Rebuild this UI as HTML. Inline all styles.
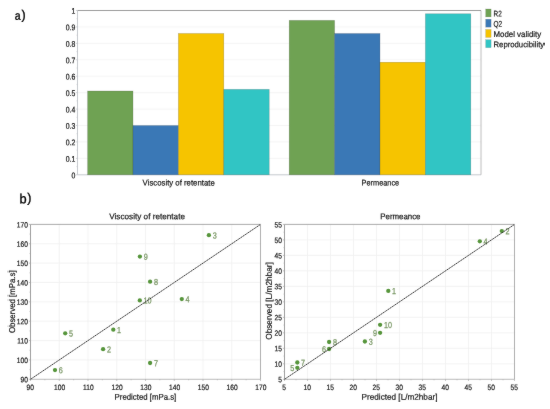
<!DOCTYPE html>
<html><head><meta charset="utf-8"><title>Figure</title>
<style>html,body{margin:0;padding:0;background:#fff;}body{width:550px;height:409px;overflow:hidden;}svg{display:block;}</style>
</head><body>
<svg width="550" height="409" viewBox="0 0 550 409" font-family="'Liberation Sans', sans-serif">
<rect width="550" height="409" fill="#fff"/>
<g filter="url(#soft)">
<line x1="77.5" x2="481.0" y1="158.37" y2="158.37" stroke="#f2f2f2" stroke-width="0.8"/>
<line x1="77.5" x2="481.0" y1="141.94" y2="141.94" stroke="#f2f2f2" stroke-width="0.8"/>
<line x1="77.5" x2="481.0" y1="125.51" y2="125.51" stroke="#f2f2f2" stroke-width="0.8"/>
<line x1="77.5" x2="481.0" y1="109.08" y2="109.08" stroke="#f2f2f2" stroke-width="0.8"/>
<line x1="77.5" x2="481.0" y1="92.65" y2="92.65" stroke="#f2f2f2" stroke-width="0.8"/>
<line x1="77.5" x2="481.0" y1="76.22" y2="76.22" stroke="#f2f2f2" stroke-width="0.8"/>
<line x1="77.5" x2="481.0" y1="59.79" y2="59.79" stroke="#f2f2f2" stroke-width="0.8"/>
<line x1="77.5" x2="481.0" y1="43.36" y2="43.36" stroke="#f2f2f2" stroke-width="0.8"/>
<line x1="77.5" x2="481.0" y1="26.93" y2="26.93" stroke="#f2f2f2" stroke-width="0.8"/>
<line x1="77.5" x2="77.5" y1="10.5" y2="174.8" stroke="#bfc3c8" stroke-width="0.9"/>
<line x1="77.5" x2="481.0" y1="174.8" y2="174.8" stroke="#bfc3c8" stroke-width="0.9"/>
<line x1="481.0" x2="481.0" y1="10.5" y2="174.8" stroke="#b4b4b4" stroke-width="0.9"/>
<line x1="77.5" x2="481.0" y1="10.5" y2="10.5" stroke="#8e8e8e" stroke-width="0.9"/>
<line x1="75.9" x2="77.5" y1="174.80" y2="174.80" stroke="#bfc3c8" stroke-width="0.7"/>
<line x1="76.5" x2="77.5" y1="166.59" y2="166.59" stroke="#bfc3c8" stroke-width="0.6"/>
<text transform="translate(75.30 178.15) rotate(0.05) scale(0.8400 1)" font-size="8.2" text-anchor="end" fill="#151515" stroke="#151515" stroke-width="0.24">0</text>
<line x1="75.9" x2="77.5" y1="158.37" y2="158.37" stroke="#bfc3c8" stroke-width="0.7"/>
<line x1="76.5" x2="77.5" y1="150.16" y2="150.16" stroke="#bfc3c8" stroke-width="0.6"/>
<text transform="translate(75.30 161.72) rotate(0.05) scale(0.8400 1)" font-size="8.2" text-anchor="end" fill="#151515" stroke="#151515" stroke-width="0.24">0.1</text>
<line x1="75.9" x2="77.5" y1="141.94" y2="141.94" stroke="#bfc3c8" stroke-width="0.7"/>
<line x1="76.5" x2="77.5" y1="133.73" y2="133.73" stroke="#bfc3c8" stroke-width="0.6"/>
<text transform="translate(75.30 145.29) rotate(0.05) scale(0.8400 1)" font-size="8.2" text-anchor="end" fill="#151515" stroke="#151515" stroke-width="0.24">0.2</text>
<line x1="75.9" x2="77.5" y1="125.51" y2="125.51" stroke="#bfc3c8" stroke-width="0.7"/>
<line x1="76.5" x2="77.5" y1="117.30" y2="117.30" stroke="#bfc3c8" stroke-width="0.6"/>
<text transform="translate(75.30 128.86) rotate(0.05) scale(0.8400 1)" font-size="8.2" text-anchor="end" fill="#151515" stroke="#151515" stroke-width="0.24">0.3</text>
<line x1="75.9" x2="77.5" y1="109.08" y2="109.08" stroke="#bfc3c8" stroke-width="0.7"/>
<line x1="76.5" x2="77.5" y1="100.87" y2="100.87" stroke="#bfc3c8" stroke-width="0.6"/>
<text transform="translate(75.30 112.43) rotate(0.05) scale(0.8400 1)" font-size="8.2" text-anchor="end" fill="#151515" stroke="#151515" stroke-width="0.24">0.4</text>
<line x1="75.9" x2="77.5" y1="92.65" y2="92.65" stroke="#bfc3c8" stroke-width="0.7"/>
<line x1="76.5" x2="77.5" y1="84.44" y2="84.44" stroke="#bfc3c8" stroke-width="0.6"/>
<text transform="translate(75.30 96.00) rotate(0.05) scale(0.8400 1)" font-size="8.2" text-anchor="end" fill="#151515" stroke="#151515" stroke-width="0.24">0.5</text>
<line x1="75.9" x2="77.5" y1="76.22" y2="76.22" stroke="#bfc3c8" stroke-width="0.7"/>
<line x1="76.5" x2="77.5" y1="68.00" y2="68.00" stroke="#bfc3c8" stroke-width="0.6"/>
<text transform="translate(75.30 79.57) rotate(0.05) scale(0.8400 1)" font-size="8.2" text-anchor="end" fill="#151515" stroke="#151515" stroke-width="0.24">0.6</text>
<line x1="75.9" x2="77.5" y1="59.79" y2="59.79" stroke="#bfc3c8" stroke-width="0.7"/>
<line x1="76.5" x2="77.5" y1="51.58" y2="51.58" stroke="#bfc3c8" stroke-width="0.6"/>
<text transform="translate(75.30 63.14) rotate(0.05) scale(0.8400 1)" font-size="8.2" text-anchor="end" fill="#151515" stroke="#151515" stroke-width="0.24">0.7</text>
<line x1="75.9" x2="77.5" y1="43.36" y2="43.36" stroke="#bfc3c8" stroke-width="0.7"/>
<line x1="76.5" x2="77.5" y1="35.14" y2="35.14" stroke="#bfc3c8" stroke-width="0.6"/>
<text transform="translate(75.30 46.71) rotate(0.05) scale(0.8400 1)" font-size="8.2" text-anchor="end" fill="#151515" stroke="#151515" stroke-width="0.24">0.8</text>
<line x1="75.9" x2="77.5" y1="26.93" y2="26.93" stroke="#bfc3c8" stroke-width="0.7"/>
<line x1="76.5" x2="77.5" y1="18.71" y2="18.71" stroke="#bfc3c8" stroke-width="0.6"/>
<text transform="translate(75.30 30.28) rotate(0.05) scale(0.8400 1)" font-size="8.2" text-anchor="end" fill="#151515" stroke="#151515" stroke-width="0.24">0.9</text>
<line x1="75.9" x2="77.5" y1="10.50" y2="10.50" stroke="#bfc3c8" stroke-width="0.7"/>
<text transform="translate(75.30 13.85) rotate(0.05) scale(0.8400 1)" font-size="8.2" text-anchor="end" fill="#151515" stroke="#151515" stroke-width="0.24">1</text>
<rect x="87.60" y="91.01" width="45.40" height="83.79" fill="#6fa253" stroke="rgba(50,50,50,0.35)" stroke-width="0.5"/>
<rect x="133.00" y="125.51" width="45.40" height="49.29" fill="#3a78b6" stroke="rgba(50,50,50,0.35)" stroke-width="0.5"/>
<rect x="178.40" y="33.50" width="45.40" height="141.30" fill="#f6c400" stroke="rgba(50,50,50,0.35)" stroke-width="0.5"/>
<rect x="223.80" y="89.36" width="45.40" height="85.44" fill="#31c5c4" stroke="rgba(50,50,50,0.35)" stroke-width="0.5"/>
<rect x="289.20" y="20.36" width="45.40" height="154.44" fill="#6fa253" stroke="rgba(50,50,50,0.35)" stroke-width="0.5"/>
<rect x="334.60" y="33.50" width="45.40" height="141.30" fill="#3a78b6" stroke="rgba(50,50,50,0.35)" stroke-width="0.5"/>
<rect x="380.00" y="62.25" width="45.40" height="112.55" fill="#f6c400" stroke="rgba(50,50,50,0.35)" stroke-width="0.5"/>
<rect x="425.40" y="13.79" width="45.40" height="161.01" fill="#31c5c4" stroke="rgba(50,50,50,0.35)" stroke-width="0.5"/>
<text transform="translate(178.70 185.60) rotate(0.05) scale(0.9390 1)" font-size="8.3" text-anchor="middle" fill="#151515" stroke="#151515" stroke-width="0.2">Viscosity of retentate</text>
<text transform="translate(380.40 185.60) rotate(0.05) scale(0.8882 1)" font-size="8.3" text-anchor="middle" fill="#151515" stroke="#151515" stroke-width="0.2">Permeance</text>
<rect x="485.7" y="9.00" width="5.4" height="7.9" fill="#6fa253" stroke="rgba(60,60,60,0.35)" stroke-width="0.4"/>
<text transform="translate(493.50 16.50) rotate(0.05) scale(0.7728 1)" font-size="8.3" text-anchor="start" fill="#151515" stroke="#151515" stroke-width="0.2">R2</text>
<rect x="485.7" y="19.25" width="5.4" height="7.9" fill="#3a78b6" stroke="rgba(60,60,60,0.35)" stroke-width="0.4"/>
<text transform="translate(493.50 26.75) rotate(0.05) scale(0.7767 1)" font-size="8.3" text-anchor="start" fill="#151515" stroke="#151515" stroke-width="0.2">Q2</text>
<rect x="485.7" y="29.50" width="5.4" height="7.9" fill="#f6c400" stroke="rgba(60,60,60,0.35)" stroke-width="0.4"/>
<text transform="translate(493.50 37.00) rotate(0.05) scale(0.9506 1)" font-size="8.3" text-anchor="start" fill="#151515" stroke="#151515" stroke-width="0.2">Model validity</text>
<rect x="485.7" y="39.75" width="5.4" height="7.9" fill="#31c5c4" stroke="rgba(60,60,60,0.35)" stroke-width="0.4"/>
<text transform="translate(493.50 47.25) rotate(0.05) scale(0.9332 1)" font-size="8.3" text-anchor="start" fill="#151515" stroke="#151515" stroke-width="0.2">Reproducibility</text>
<text transform="translate(14.80 19.80) rotate(0.05) scale(0.8600 1)" font-size="12.2" text-anchor="start" fill="#000" stroke="#000" stroke-width="0.35">a</text>
<text transform="translate(21.60 19.30) rotate(0.05) scale(0.9500 1)" font-size="13.0" text-anchor="start" fill="#000" stroke="#000" stroke-width="0.35">)</text>
<text transform="translate(19.50 203.20) rotate(0.05) scale(0.9600 1)" font-size="13.3" text-anchor="start" fill="#000" stroke="#000" stroke-width="0.35">b</text>
<text transform="translate(27.30 202.30) rotate(0.05) scale(0.9500 1)" font-size="13.0" text-anchor="start" fill="#000" stroke="#000" stroke-width="0.35">)</text>
<line x1="59.25" x2="59.25" y1="224.4" y2="379.3" stroke="#f0f0f0" stroke-width="0.8"/>
<line x1="88.00" x2="88.00" y1="224.4" y2="379.3" stroke="#f0f0f0" stroke-width="0.8"/>
<line x1="116.75" x2="116.75" y1="224.4" y2="379.3" stroke="#f0f0f0" stroke-width="0.8"/>
<line x1="145.50" x2="145.50" y1="224.4" y2="379.3" stroke="#f0f0f0" stroke-width="0.8"/>
<line x1="174.25" x2="174.25" y1="224.4" y2="379.3" stroke="#f0f0f0" stroke-width="0.8"/>
<line x1="203.00" x2="203.00" y1="224.4" y2="379.3" stroke="#f0f0f0" stroke-width="0.8"/>
<line x1="231.75" x2="231.75" y1="224.4" y2="379.3" stroke="#f0f0f0" stroke-width="0.8"/>
<line x1="30.5" x2="260.5" y1="359.94" y2="359.94" stroke="#f0f0f0" stroke-width="0.8"/>
<line x1="30.5" x2="260.5" y1="340.57" y2="340.57" stroke="#f0f0f0" stroke-width="0.8"/>
<line x1="30.5" x2="260.5" y1="321.21" y2="321.21" stroke="#f0f0f0" stroke-width="0.8"/>
<line x1="30.5" x2="260.5" y1="301.85" y2="301.85" stroke="#f0f0f0" stroke-width="0.8"/>
<line x1="30.5" x2="260.5" y1="282.49" y2="282.49" stroke="#f0f0f0" stroke-width="0.8"/>
<line x1="30.5" x2="260.5" y1="263.12" y2="263.12" stroke="#f0f0f0" stroke-width="0.8"/>
<line x1="30.5" x2="260.5" y1="243.76" y2="243.76" stroke="#f0f0f0" stroke-width="0.8"/>
<line x1="30.5" x2="30.5" y1="224.4" y2="379.3" stroke="#929292" stroke-width="0.9"/>
<line x1="30.5" x2="260.5" y1="379.3" y2="379.3" stroke="#b4b4b4" stroke-width="0.9"/>
<line x1="260.5" x2="260.5" y1="224.4" y2="379.3" stroke="#a6a6a6" stroke-width="0.9"/>
<line x1="30.5" x2="260.5" y1="224.4" y2="224.4" stroke="#a0a0a0" stroke-width="0.9"/>
<line x1="30.50" x2="30.50" y1="379.3" y2="380.90000000000003" stroke="#a4a4a4" stroke-width="0.7"/>
<text transform="translate(30.20 389.90) rotate(0.05) scale(0.8500 1)" font-size="7.8" text-anchor="middle" fill="#151515" stroke="#151515" stroke-width="0.2">90</text>
<line x1="44.88" x2="44.88" y1="379.3" y2="380.3" stroke="#a4a4a4" stroke-width="0.6"/>
<line x1="59.25" x2="59.25" y1="379.3" y2="380.90000000000003" stroke="#a4a4a4" stroke-width="0.7"/>
<text transform="translate(59.55 389.90) rotate(0.05) scale(0.8500 1)" font-size="7.8" text-anchor="middle" fill="#151515" stroke="#151515" stroke-width="0.2">100</text>
<line x1="73.62" x2="73.62" y1="379.3" y2="380.3" stroke="#a4a4a4" stroke-width="0.6"/>
<line x1="88.00" x2="88.00" y1="379.3" y2="380.90000000000003" stroke="#a4a4a4" stroke-width="0.7"/>
<text transform="translate(88.30 389.90) rotate(0.05) scale(0.8500 1)" font-size="7.8" text-anchor="middle" fill="#151515" stroke="#151515" stroke-width="0.2">110</text>
<line x1="102.38" x2="102.38" y1="379.3" y2="380.3" stroke="#a4a4a4" stroke-width="0.6"/>
<line x1="116.75" x2="116.75" y1="379.3" y2="380.90000000000003" stroke="#a4a4a4" stroke-width="0.7"/>
<text transform="translate(117.05 389.90) rotate(0.05) scale(0.8500 1)" font-size="7.8" text-anchor="middle" fill="#151515" stroke="#151515" stroke-width="0.2">120</text>
<line x1="131.12" x2="131.12" y1="379.3" y2="380.3" stroke="#a4a4a4" stroke-width="0.6"/>
<line x1="145.50" x2="145.50" y1="379.3" y2="380.90000000000003" stroke="#a4a4a4" stroke-width="0.7"/>
<text transform="translate(145.80 389.90) rotate(0.05) scale(0.8500 1)" font-size="7.8" text-anchor="middle" fill="#151515" stroke="#151515" stroke-width="0.2">130</text>
<line x1="159.88" x2="159.88" y1="379.3" y2="380.3" stroke="#a4a4a4" stroke-width="0.6"/>
<line x1="174.25" x2="174.25" y1="379.3" y2="380.90000000000003" stroke="#a4a4a4" stroke-width="0.7"/>
<text transform="translate(174.55 389.90) rotate(0.05) scale(0.8500 1)" font-size="7.8" text-anchor="middle" fill="#151515" stroke="#151515" stroke-width="0.2">140</text>
<line x1="188.62" x2="188.62" y1="379.3" y2="380.3" stroke="#a4a4a4" stroke-width="0.6"/>
<line x1="203.00" x2="203.00" y1="379.3" y2="380.90000000000003" stroke="#a4a4a4" stroke-width="0.7"/>
<text transform="translate(203.30 389.90) rotate(0.05) scale(0.8500 1)" font-size="7.8" text-anchor="middle" fill="#151515" stroke="#151515" stroke-width="0.2">150</text>
<line x1="217.38" x2="217.38" y1="379.3" y2="380.3" stroke="#a4a4a4" stroke-width="0.6"/>
<line x1="231.75" x2="231.75" y1="379.3" y2="380.90000000000003" stroke="#a4a4a4" stroke-width="0.7"/>
<text transform="translate(232.05 389.90) rotate(0.05) scale(0.8500 1)" font-size="7.8" text-anchor="middle" fill="#151515" stroke="#151515" stroke-width="0.2">160</text>
<line x1="246.12" x2="246.12" y1="379.3" y2="380.3" stroke="#a4a4a4" stroke-width="0.6"/>
<line x1="260.50" x2="260.50" y1="379.3" y2="380.90000000000003" stroke="#a4a4a4" stroke-width="0.7"/>
<text transform="translate(260.80 389.90) rotate(0.05) scale(0.8500 1)" font-size="7.8" text-anchor="middle" fill="#151515" stroke="#151515" stroke-width="0.2">170</text>
<line x1="28.9" x2="30.5" y1="379.30" y2="379.30" stroke="#a4a4a4" stroke-width="0.7"/>
<text transform="translate(27.90 382.30) rotate(0.05) scale(0.8500 1)" font-size="7.8" text-anchor="end" fill="#151515" stroke="#151515" stroke-width="0.2">90</text>
<line x1="29.5" x2="30.5" y1="369.62" y2="369.62" stroke="#a4a4a4" stroke-width="0.6"/>
<line x1="28.9" x2="30.5" y1="359.94" y2="359.94" stroke="#a4a4a4" stroke-width="0.7"/>
<text transform="translate(27.90 362.94) rotate(0.05) scale(0.8500 1)" font-size="7.8" text-anchor="end" fill="#151515" stroke="#151515" stroke-width="0.2">100</text>
<line x1="29.5" x2="30.5" y1="350.26" y2="350.26" stroke="#a4a4a4" stroke-width="0.6"/>
<line x1="28.9" x2="30.5" y1="340.57" y2="340.57" stroke="#a4a4a4" stroke-width="0.7"/>
<text transform="translate(27.90 343.57) rotate(0.05) scale(0.8500 1)" font-size="7.8" text-anchor="end" fill="#151515" stroke="#151515" stroke-width="0.2">110</text>
<line x1="29.5" x2="30.5" y1="330.89" y2="330.89" stroke="#a4a4a4" stroke-width="0.6"/>
<line x1="28.9" x2="30.5" y1="321.21" y2="321.21" stroke="#a4a4a4" stroke-width="0.7"/>
<text transform="translate(27.90 324.21) rotate(0.05) scale(0.8500 1)" font-size="7.8" text-anchor="end" fill="#151515" stroke="#151515" stroke-width="0.2">120</text>
<line x1="29.5" x2="30.5" y1="311.53" y2="311.53" stroke="#a4a4a4" stroke-width="0.6"/>
<line x1="28.9" x2="30.5" y1="301.85" y2="301.85" stroke="#a4a4a4" stroke-width="0.7"/>
<text transform="translate(27.90 304.85) rotate(0.05) scale(0.8500 1)" font-size="7.8" text-anchor="end" fill="#151515" stroke="#151515" stroke-width="0.2">130</text>
<line x1="29.5" x2="30.5" y1="292.17" y2="292.17" stroke="#a4a4a4" stroke-width="0.6"/>
<line x1="28.9" x2="30.5" y1="282.49" y2="282.49" stroke="#a4a4a4" stroke-width="0.7"/>
<text transform="translate(27.90 285.49) rotate(0.05) scale(0.8500 1)" font-size="7.8" text-anchor="end" fill="#151515" stroke="#151515" stroke-width="0.2">140</text>
<line x1="29.5" x2="30.5" y1="272.81" y2="272.81" stroke="#a4a4a4" stroke-width="0.6"/>
<line x1="28.9" x2="30.5" y1="263.12" y2="263.12" stroke="#a4a4a4" stroke-width="0.7"/>
<text transform="translate(27.90 266.12) rotate(0.05) scale(0.8500 1)" font-size="7.8" text-anchor="end" fill="#151515" stroke="#151515" stroke-width="0.2">150</text>
<line x1="29.5" x2="30.5" y1="253.44" y2="253.44" stroke="#a4a4a4" stroke-width="0.6"/>
<line x1="28.9" x2="30.5" y1="243.76" y2="243.76" stroke="#a4a4a4" stroke-width="0.7"/>
<text transform="translate(27.90 246.76) rotate(0.05) scale(0.8500 1)" font-size="7.8" text-anchor="end" fill="#151515" stroke="#151515" stroke-width="0.2">160</text>
<line x1="29.5" x2="30.5" y1="234.08" y2="234.08" stroke="#a4a4a4" stroke-width="0.6"/>
<line x1="28.9" x2="30.5" y1="224.40" y2="224.40" stroke="#a4a4a4" stroke-width="0.7"/>
<text transform="translate(27.90 227.40) rotate(0.05) scale(0.8500 1)" font-size="7.8" text-anchor="end" fill="#151515" stroke="#151515" stroke-width="0.2">170</text>
<circle cx="208.90" cy="235.20" r="2.15" fill="#56953b"/>
<text transform="translate(212.70 238.40) rotate(0.05) scale(0.8300 1)" font-size="8.7" text-anchor="start" fill="#789663" stroke="#789663" stroke-width="0.25">3</text>
<circle cx="139.90" cy="256.60" r="2.15" fill="#56953b"/>
<text transform="translate(143.70 259.80) rotate(0.05) scale(0.8300 1)" font-size="8.7" text-anchor="start" fill="#789663" stroke="#789663" stroke-width="0.25">9</text>
<circle cx="150.10" cy="281.70" r="2.15" fill="#56953b"/>
<text transform="translate(153.90 284.90) rotate(0.05) scale(0.8300 1)" font-size="8.7" text-anchor="start" fill="#789663" stroke="#789663" stroke-width="0.25">8</text>
<circle cx="181.80" cy="299.10" r="2.15" fill="#56953b"/>
<text transform="translate(185.60 302.30) rotate(0.05) scale(0.8300 1)" font-size="8.7" text-anchor="start" fill="#789663" stroke="#789663" stroke-width="0.25">4</text>
<circle cx="139.80" cy="300.40" r="2.15" fill="#56953b"/>
<text transform="translate(143.60 303.60) rotate(0.05) scale(0.8300 1)" font-size="8.7" text-anchor="start" fill="#789663" stroke="#789663" stroke-width="0.25">10</text>
<circle cx="113.30" cy="329.70" r="2.15" fill="#56953b"/>
<text transform="translate(117.10 332.90) rotate(0.05) scale(0.8300 1)" font-size="8.7" text-anchor="start" fill="#789663" stroke="#789663" stroke-width="0.25">1</text>
<circle cx="65.20" cy="333.30" r="2.15" fill="#56953b"/>
<text transform="translate(69.00 336.50) rotate(0.05) scale(0.8300 1)" font-size="8.7" text-anchor="start" fill="#789663" stroke="#789663" stroke-width="0.25">5</text>
<circle cx="103.10" cy="349.20" r="2.15" fill="#56953b"/>
<text transform="translate(106.90 352.40) rotate(0.05) scale(0.8300 1)" font-size="8.7" text-anchor="start" fill="#789663" stroke="#789663" stroke-width="0.25">2</text>
<circle cx="150.10" cy="363.00" r="2.15" fill="#56953b"/>
<text transform="translate(153.90 366.20) rotate(0.05) scale(0.8300 1)" font-size="8.7" text-anchor="start" fill="#789663" stroke="#789663" stroke-width="0.25">7</text>
<circle cx="55.00" cy="370.10" r="2.15" fill="#56953b"/>
<text transform="translate(58.80 373.30) rotate(0.05) scale(0.8300 1)" font-size="8.7" text-anchor="start" fill="#789663" stroke="#789663" stroke-width="0.25">6</text>
<line x1="30.5" y1="379.3" x2="260.5" y2="224.4" stroke="#2a2a2a" stroke-width="0.95" stroke-dasharray="1.7 0.45"/>
<text transform="translate(147.10 219.20) rotate(0.05) scale(0.9741 1)" font-size="8.4" text-anchor="middle" fill="#151515" stroke="#151515" stroke-width="0.2">Viscosity of retentate</text>
<text transform="translate(145.40 399.80) rotate(0.05) scale(0.9307 1)" font-size="8.4" text-anchor="middle" fill="#151515" stroke="#151515" stroke-width="0.2">Predicted [mPa.s]</text>
<text transform="translate(15.00 301.70) rotate(-89.95) scale(0.9342 1)" font-size="8.4" text-anchor="middle" fill="#151515" stroke="#151515" stroke-width="0.2">Observed [mPa.s]</text>
<line x1="307.50" x2="307.50" y1="224.4" y2="379.3" stroke="#f0f0f0" stroke-width="0.8"/>
<line x1="330.50" x2="330.50" y1="224.4" y2="379.3" stroke="#f0f0f0" stroke-width="0.8"/>
<line x1="353.50" x2="353.50" y1="224.4" y2="379.3" stroke="#f0f0f0" stroke-width="0.8"/>
<line x1="376.50" x2="376.50" y1="224.4" y2="379.3" stroke="#f0f0f0" stroke-width="0.8"/>
<line x1="399.50" x2="399.50" y1="224.4" y2="379.3" stroke="#f0f0f0" stroke-width="0.8"/>
<line x1="422.50" x2="422.50" y1="224.4" y2="379.3" stroke="#f0f0f0" stroke-width="0.8"/>
<line x1="445.50" x2="445.50" y1="224.4" y2="379.3" stroke="#f0f0f0" stroke-width="0.8"/>
<line x1="468.50" x2="468.50" y1="224.4" y2="379.3" stroke="#f0f0f0" stroke-width="0.8"/>
<line x1="491.50" x2="491.50" y1="224.4" y2="379.3" stroke="#f0f0f0" stroke-width="0.8"/>
<line x1="284.5" x2="514.5" y1="363.81" y2="363.81" stroke="#f0f0f0" stroke-width="0.8"/>
<line x1="284.5" x2="514.5" y1="348.32" y2="348.32" stroke="#f0f0f0" stroke-width="0.8"/>
<line x1="284.5" x2="514.5" y1="332.83" y2="332.83" stroke="#f0f0f0" stroke-width="0.8"/>
<line x1="284.5" x2="514.5" y1="317.34" y2="317.34" stroke="#f0f0f0" stroke-width="0.8"/>
<line x1="284.5" x2="514.5" y1="301.85" y2="301.85" stroke="#f0f0f0" stroke-width="0.8"/>
<line x1="284.5" x2="514.5" y1="286.36" y2="286.36" stroke="#f0f0f0" stroke-width="0.8"/>
<line x1="284.5" x2="514.5" y1="270.87" y2="270.87" stroke="#f0f0f0" stroke-width="0.8"/>
<line x1="284.5" x2="514.5" y1="255.38" y2="255.38" stroke="#f0f0f0" stroke-width="0.8"/>
<line x1="284.5" x2="514.5" y1="239.89" y2="239.89" stroke="#f0f0f0" stroke-width="0.8"/>
<line x1="284.5" x2="284.5" y1="224.4" y2="379.3" stroke="#929292" stroke-width="0.9"/>
<line x1="284.5" x2="514.5" y1="379.3" y2="379.3" stroke="#b4b4b4" stroke-width="0.9"/>
<line x1="514.5" x2="514.5" y1="224.4" y2="379.3" stroke="#a6a6a6" stroke-width="0.9"/>
<line x1="284.5" x2="514.5" y1="224.4" y2="224.4" stroke="#a0a0a0" stroke-width="0.9"/>
<line x1="284.50" x2="284.50" y1="379.3" y2="380.90000000000003" stroke="#a4a4a4" stroke-width="0.7"/>
<text transform="translate(284.20 389.90) rotate(0.05) scale(0.8500 1)" font-size="7.8" text-anchor="middle" fill="#151515" stroke="#151515" stroke-width="0.2">5</text>
<line x1="296.00" x2="296.00" y1="379.3" y2="380.3" stroke="#a4a4a4" stroke-width="0.6"/>
<line x1="307.50" x2="307.50" y1="379.3" y2="380.90000000000003" stroke="#a4a4a4" stroke-width="0.7"/>
<text transform="translate(307.20 389.90) rotate(0.05) scale(0.8500 1)" font-size="7.8" text-anchor="middle" fill="#151515" stroke="#151515" stroke-width="0.2">10</text>
<line x1="319.00" x2="319.00" y1="379.3" y2="380.3" stroke="#a4a4a4" stroke-width="0.6"/>
<line x1="330.50" x2="330.50" y1="379.3" y2="380.90000000000003" stroke="#a4a4a4" stroke-width="0.7"/>
<text transform="translate(330.20 389.90) rotate(0.05) scale(0.8500 1)" font-size="7.8" text-anchor="middle" fill="#151515" stroke="#151515" stroke-width="0.2">15</text>
<line x1="342.00" x2="342.00" y1="379.3" y2="380.3" stroke="#a4a4a4" stroke-width="0.6"/>
<line x1="353.50" x2="353.50" y1="379.3" y2="380.90000000000003" stroke="#a4a4a4" stroke-width="0.7"/>
<text transform="translate(353.20 389.90) rotate(0.05) scale(0.8500 1)" font-size="7.8" text-anchor="middle" fill="#151515" stroke="#151515" stroke-width="0.2">20</text>
<line x1="365.00" x2="365.00" y1="379.3" y2="380.3" stroke="#a4a4a4" stroke-width="0.6"/>
<line x1="376.50" x2="376.50" y1="379.3" y2="380.90000000000003" stroke="#a4a4a4" stroke-width="0.7"/>
<text transform="translate(376.20 389.90) rotate(0.05) scale(0.8500 1)" font-size="7.8" text-anchor="middle" fill="#151515" stroke="#151515" stroke-width="0.2">25</text>
<line x1="388.00" x2="388.00" y1="379.3" y2="380.3" stroke="#a4a4a4" stroke-width="0.6"/>
<line x1="399.50" x2="399.50" y1="379.3" y2="380.90000000000003" stroke="#a4a4a4" stroke-width="0.7"/>
<text transform="translate(399.20 389.90) rotate(0.05) scale(0.8500 1)" font-size="7.8" text-anchor="middle" fill="#151515" stroke="#151515" stroke-width="0.2">30</text>
<line x1="411.00" x2="411.00" y1="379.3" y2="380.3" stroke="#a4a4a4" stroke-width="0.6"/>
<line x1="422.50" x2="422.50" y1="379.3" y2="380.90000000000003" stroke="#a4a4a4" stroke-width="0.7"/>
<text transform="translate(422.20 389.90) rotate(0.05) scale(0.8500 1)" font-size="7.8" text-anchor="middle" fill="#151515" stroke="#151515" stroke-width="0.2">35</text>
<line x1="434.00" x2="434.00" y1="379.3" y2="380.3" stroke="#a4a4a4" stroke-width="0.6"/>
<line x1="445.50" x2="445.50" y1="379.3" y2="380.90000000000003" stroke="#a4a4a4" stroke-width="0.7"/>
<text transform="translate(445.20 389.90) rotate(0.05) scale(0.8500 1)" font-size="7.8" text-anchor="middle" fill="#151515" stroke="#151515" stroke-width="0.2">40</text>
<line x1="457.00" x2="457.00" y1="379.3" y2="380.3" stroke="#a4a4a4" stroke-width="0.6"/>
<line x1="468.50" x2="468.50" y1="379.3" y2="380.90000000000003" stroke="#a4a4a4" stroke-width="0.7"/>
<text transform="translate(468.20 389.90) rotate(0.05) scale(0.8500 1)" font-size="7.8" text-anchor="middle" fill="#151515" stroke="#151515" stroke-width="0.2">45</text>
<line x1="480.00" x2="480.00" y1="379.3" y2="380.3" stroke="#a4a4a4" stroke-width="0.6"/>
<line x1="491.50" x2="491.50" y1="379.3" y2="380.90000000000003" stroke="#a4a4a4" stroke-width="0.7"/>
<text transform="translate(491.20 389.90) rotate(0.05) scale(0.8500 1)" font-size="7.8" text-anchor="middle" fill="#151515" stroke="#151515" stroke-width="0.2">50</text>
<line x1="503.00" x2="503.00" y1="379.3" y2="380.3" stroke="#a4a4a4" stroke-width="0.6"/>
<line x1="514.50" x2="514.50" y1="379.3" y2="380.90000000000003" stroke="#a4a4a4" stroke-width="0.7"/>
<text transform="translate(514.20 389.90) rotate(0.05) scale(0.8500 1)" font-size="7.8" text-anchor="middle" fill="#151515" stroke="#151515" stroke-width="0.2">55</text>
<line x1="282.9" x2="284.5" y1="379.30" y2="379.30" stroke="#a4a4a4" stroke-width="0.7"/>
<text transform="translate(281.90 382.30) rotate(0.05) scale(0.8500 1)" font-size="7.8" text-anchor="end" fill="#151515" stroke="#151515" stroke-width="0.2">5</text>
<line x1="283.5" x2="284.5" y1="371.56" y2="371.56" stroke="#a4a4a4" stroke-width="0.6"/>
<line x1="282.9" x2="284.5" y1="363.81" y2="363.81" stroke="#a4a4a4" stroke-width="0.7"/>
<text transform="translate(281.90 366.81) rotate(0.05) scale(0.8500 1)" font-size="7.8" text-anchor="end" fill="#151515" stroke="#151515" stroke-width="0.2">10</text>
<line x1="283.5" x2="284.5" y1="356.06" y2="356.06" stroke="#a4a4a4" stroke-width="0.6"/>
<line x1="282.9" x2="284.5" y1="348.32" y2="348.32" stroke="#a4a4a4" stroke-width="0.7"/>
<text transform="translate(281.90 351.32) rotate(0.05) scale(0.8500 1)" font-size="7.8" text-anchor="end" fill="#151515" stroke="#151515" stroke-width="0.2">15</text>
<line x1="283.5" x2="284.5" y1="340.57" y2="340.57" stroke="#a4a4a4" stroke-width="0.6"/>
<line x1="282.9" x2="284.5" y1="332.83" y2="332.83" stroke="#a4a4a4" stroke-width="0.7"/>
<text transform="translate(281.90 335.83) rotate(0.05) scale(0.8500 1)" font-size="7.8" text-anchor="end" fill="#151515" stroke="#151515" stroke-width="0.2">20</text>
<line x1="283.5" x2="284.5" y1="325.09" y2="325.09" stroke="#a4a4a4" stroke-width="0.6"/>
<line x1="282.9" x2="284.5" y1="317.34" y2="317.34" stroke="#a4a4a4" stroke-width="0.7"/>
<text transform="translate(281.90 320.34) rotate(0.05) scale(0.8500 1)" font-size="7.8" text-anchor="end" fill="#151515" stroke="#151515" stroke-width="0.2">25</text>
<line x1="283.5" x2="284.5" y1="309.60" y2="309.60" stroke="#a4a4a4" stroke-width="0.6"/>
<line x1="282.9" x2="284.5" y1="301.85" y2="301.85" stroke="#a4a4a4" stroke-width="0.7"/>
<text transform="translate(281.90 304.85) rotate(0.05) scale(0.8500 1)" font-size="7.8" text-anchor="end" fill="#151515" stroke="#151515" stroke-width="0.2">30</text>
<line x1="283.5" x2="284.5" y1="294.11" y2="294.11" stroke="#a4a4a4" stroke-width="0.6"/>
<line x1="282.9" x2="284.5" y1="286.36" y2="286.36" stroke="#a4a4a4" stroke-width="0.7"/>
<text transform="translate(281.90 289.36) rotate(0.05) scale(0.8500 1)" font-size="7.8" text-anchor="end" fill="#151515" stroke="#151515" stroke-width="0.2">35</text>
<line x1="283.5" x2="284.5" y1="278.62" y2="278.62" stroke="#a4a4a4" stroke-width="0.6"/>
<line x1="282.9" x2="284.5" y1="270.87" y2="270.87" stroke="#a4a4a4" stroke-width="0.7"/>
<text transform="translate(281.90 273.87) rotate(0.05) scale(0.8500 1)" font-size="7.8" text-anchor="end" fill="#151515" stroke="#151515" stroke-width="0.2">40</text>
<line x1="283.5" x2="284.5" y1="263.12" y2="263.12" stroke="#a4a4a4" stroke-width="0.6"/>
<line x1="282.9" x2="284.5" y1="255.38" y2="255.38" stroke="#a4a4a4" stroke-width="0.7"/>
<text transform="translate(281.90 258.38) rotate(0.05) scale(0.8500 1)" font-size="7.8" text-anchor="end" fill="#151515" stroke="#151515" stroke-width="0.2">45</text>
<line x1="283.5" x2="284.5" y1="247.64" y2="247.64" stroke="#a4a4a4" stroke-width="0.6"/>
<line x1="282.9" x2="284.5" y1="239.89" y2="239.89" stroke="#a4a4a4" stroke-width="0.7"/>
<text transform="translate(281.90 242.89) rotate(0.05) scale(0.8500 1)" font-size="7.8" text-anchor="end" fill="#151515" stroke="#151515" stroke-width="0.2">50</text>
<line x1="283.5" x2="284.5" y1="232.15" y2="232.15" stroke="#a4a4a4" stroke-width="0.6"/>
<line x1="282.9" x2="284.5" y1="224.40" y2="224.40" stroke="#a4a4a4" stroke-width="0.7"/>
<text transform="translate(281.90 227.40) rotate(0.05) scale(0.8500 1)" font-size="7.8" text-anchor="end" fill="#151515" stroke="#151515" stroke-width="0.2">55</text>
<circle cx="501.80" cy="231.10" r="2.15" fill="#56953b"/>
<text transform="translate(505.60 234.30) rotate(0.05) scale(0.8300 1)" font-size="8.7" text-anchor="start" fill="#789663" stroke="#789663" stroke-width="0.25">2</text>
<circle cx="479.80" cy="241.30" r="2.15" fill="#56953b"/>
<text transform="translate(483.60 244.50) rotate(0.05) scale(0.8300 1)" font-size="8.7" text-anchor="start" fill="#789663" stroke="#789663" stroke-width="0.25">4</text>
<circle cx="388.30" cy="290.90" r="2.15" fill="#56953b"/>
<text transform="translate(392.10 294.10) rotate(0.05) scale(0.8300 1)" font-size="8.7" text-anchor="start" fill="#789663" stroke="#789663" stroke-width="0.25">1</text>
<circle cx="380.10" cy="324.80" r="2.15" fill="#56953b"/>
<text transform="translate(383.90 328.00) rotate(0.05) scale(0.8300 1)" font-size="8.7" text-anchor="start" fill="#789663" stroke="#789663" stroke-width="0.25">10</text>
<circle cx="380.10" cy="332.80" r="2.15" fill="#56953b"/>
<text transform="translate(377.10 336.00) rotate(0.05) scale(0.8300 1)" font-size="8.7" text-anchor="end" fill="#789663" stroke="#789663" stroke-width="0.25">9</text>
<circle cx="364.90" cy="341.50" r="2.15" fill="#56953b"/>
<text transform="translate(368.70 344.70) rotate(0.05) scale(0.8300 1)" font-size="8.7" text-anchor="start" fill="#789663" stroke="#789663" stroke-width="0.25">3</text>
<circle cx="329.10" cy="342.00" r="2.15" fill="#56953b"/>
<text transform="translate(332.90 345.20) rotate(0.05) scale(0.8300 1)" font-size="8.7" text-anchor="start" fill="#789663" stroke="#789663" stroke-width="0.25">8</text>
<circle cx="329.10" cy="349.00" r="2.15" fill="#56953b"/>
<text transform="translate(326.10 352.20) rotate(0.05) scale(0.8300 1)" font-size="8.7" text-anchor="end" fill="#789663" stroke="#789663" stroke-width="0.25">6</text>
<circle cx="297.30" cy="362.50" r="2.15" fill="#56953b"/>
<text transform="translate(301.10 365.70) rotate(0.05) scale(0.8300 1)" font-size="8.7" text-anchor="start" fill="#789663" stroke="#789663" stroke-width="0.25">7</text>
<circle cx="297.30" cy="367.80" r="2.15" fill="#56953b"/>
<text transform="translate(294.30 371.00) rotate(0.05) scale(0.8300 1)" font-size="8.7" text-anchor="end" fill="#789663" stroke="#789663" stroke-width="0.25">5</text>
<line x1="284.5" y1="379.3" x2="514.5" y2="224.4" stroke="#2a2a2a" stroke-width="0.95" stroke-dasharray="1.7 0.45"/>
<text transform="translate(400.40 219.20) rotate(0.05) scale(0.9382 1)" font-size="8.4" text-anchor="middle" fill="#151515" stroke="#151515" stroke-width="0.2">Permeance</text>
<text transform="translate(399.50 399.80) rotate(0.05) scale(0.9760 1)" font-size="8.4" text-anchor="middle" fill="#151515" stroke="#151515" stroke-width="0.2">Predicted [L/m2hbar]</text>
<text transform="translate(271.70 301.00) rotate(-89.95) scale(0.9834 1)" font-size="8.4" text-anchor="middle" fill="#151515" stroke="#151515" stroke-width="0.2">Observed [L/m2hbar]</text>
</g>
<defs><filter id="soft" x="0" y="0" width="100%" height="100%" color-interpolation-filters="sRGB"><feConvolveMatrix order="3" kernelMatrix="1 2 1 2 48 2 1 2 1" divisor="60" edgeMode="duplicate" preserveAlpha="false"/></filter></defs>
</svg>
</body></html>
